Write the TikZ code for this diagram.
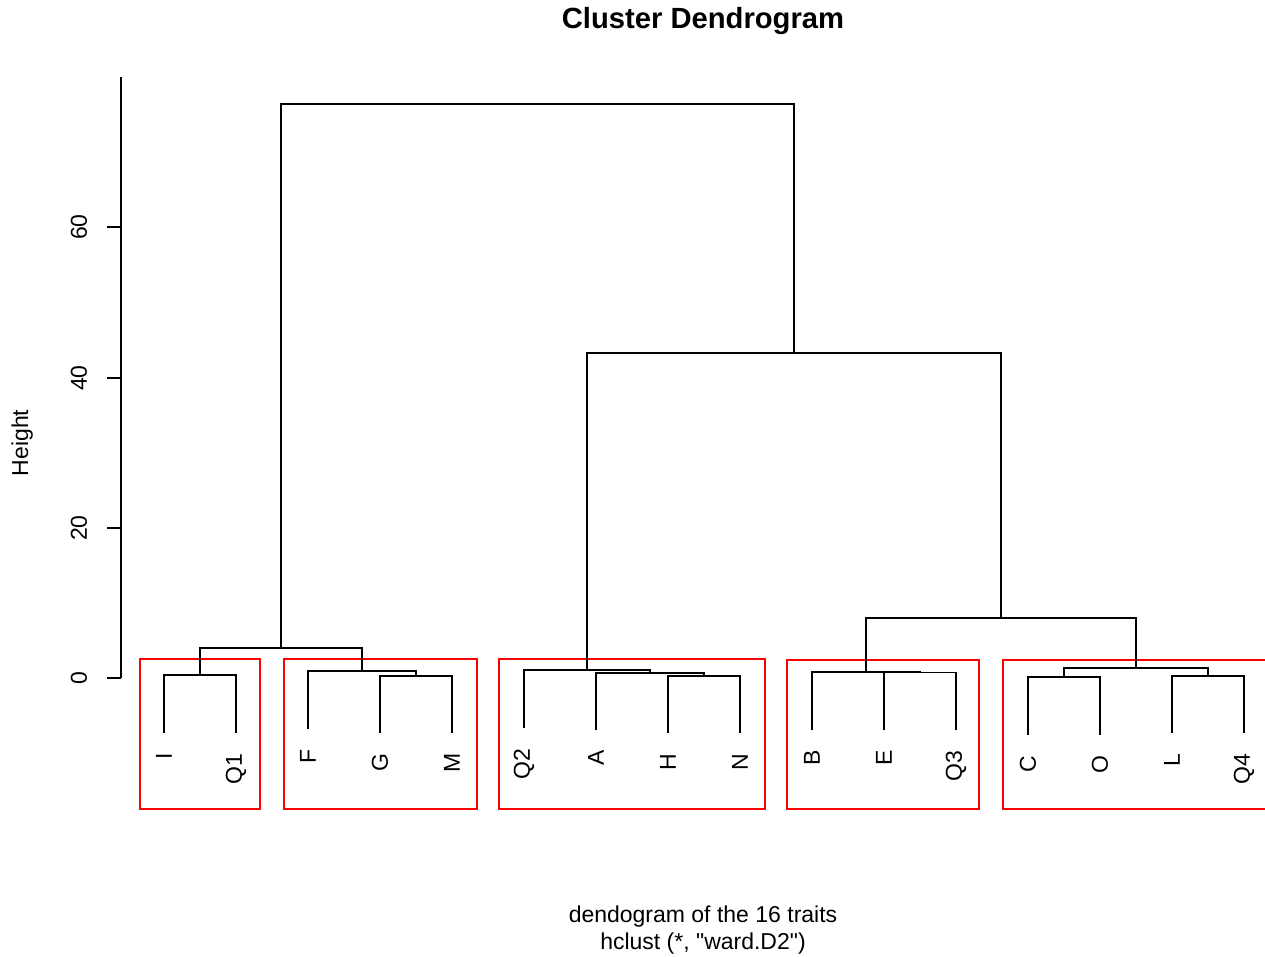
\documentclass[tikz,border=0pt]{standalone}
\usepackage{fontspec}
\setmainfont{Liberation Sans}
\newcommand\straightq{\XeTeXglyph\XeTeXcharglyph"22\relax}
\definecolor{clustcol}{HTML}{FF0000}
\definecolor{treecol}{HTML}{000000}

\begin{document}
\begin{tikzpicture}[
    x=0.5pt, y=-0.5pt,
    font=\fontsize{11.5}{13.8}\selectfont,
    branch/.style={draw=treecol, line width=0.75pt},
    clbox/.style={draw=clustcol, line width=0.85pt},
    leaflab/.style={rotate=90, anchor=east, inner sep=0pt},
    ticklab/.style={rotate=90, inner sep=0pt},
]
\useasboundingbox (0,0) rectangle (1265,957);
\clip (0,0) rectangle (1265,957);

% ── Titles ──
\node[font=\fontsize{14.6}{17.5}\selectfont\bfseries, anchor=base] (title) at (703,29) {Cluster Dendrogram};
\node[anchor=base] (sub1) at (703,922) {dendogram of the 16 traits};
\node[anchor=base] (sub2) at (703,949) {hclust (*, \straightq ward.D2\straightq)};
\node[rotate=90, anchor=base] (ylab) at (28,443) {Height};

% ── Height axis ──
\coordinate (axbot) at (121,678);
\coordinate (axtop) at (121,77);
\draw[branch] (axbot) -- (axtop);
\node[ticklab] (t0) at (79,678) {0};
\node[ticklab] (t20) at (79,528) {20};
\node[ticklab] (t40) at (79,378) {40};
\node[ticklab] (t60) at (79,227) {60};
\draw[branch] (axbot) -- ++(-14,0);
\draw[branch] (121,528) -- ++(-14,0);
\draw[branch] (121,378) -- ++(-14,0);
\draw[branch] (121,227) -- ++(-14,0);

% ── Cluster boxes ──
\draw[clbox] (140,659) rectangle (260,809);
\draw[clbox] (284,659) rectangle (477,809);
\draw[clbox] (499,659) rectangle (765,809);
\draw[clbox] (787,660) rectangle (979,809);
\draw[clbox] (1003,660) rectangle (1275,809);

% ── Leaves (left to right) ──
\coordinate (lI)  at (164,733);  \node[leaflab] (nI)  at (164,753)  {I};
\coordinate (lQ1) at (236,733);  \node[leaflab] (nQ1) at (236,753)  {Q1};
\coordinate (lF)  at (308,729);  \node[leaflab] (nF)  at (308,749)  {F};
\coordinate (lG)  at (380,733);  \node[leaflab] (nG)  at (380,753)  {G};
\coordinate (lM)  at (452,733);  \node[leaflab] (nM)  at (452,753)  {M};
\coordinate (lQ2) at (524,728);  \node[leaflab] (nQ2) at (524,748)  {Q2};
\coordinate (lA)  at (596,730);  \node[leaflab] (nA)  at (596,750)  {A};
\coordinate (lH)  at (668,733);  \node[leaflab] (nH)  at (668,753)  {H};
\coordinate (lN)  at (740,733);  \node[leaflab] (nN)  at (740,753)  {N};
\coordinate (lB)  at (812,730);  \node[leaflab] (nB)  at (812,750)  {B};
\coordinate (lE)  at (884,730);  \node[leaflab] (nE)  at (884,750)  {E};
\coordinate (lQ3) at (956,730);  \node[leaflab] (nQ3) at (956,750)  {Q3};
\coordinate (lC)  at (1028,735); \node[leaflab] (nC)  at (1028,755) {C};
\coordinate (lO)  at (1100,735); \node[leaflab] (nO)  at (1100,755) {O};
\coordinate (lL)  at (1172,733); \node[leaflab] (nL)  at (1172,753) {L};
\coordinate (lQ4) at (1244,733); \node[leaflab] (nQ4) at (1244,753) {Q4};

% ── Merge points (bottom to top) ──
\coordinate (mIQ)   at (200,675);
\coordinate (mGM)   at (416,676);
\coordinate (mFGM)  at (362,671);
\coordinate (mLft)  at (281,648);
\coordinate (mHN)   at (704,676);
\coordinate (mAHN)  at (650,673);
\coordinate (mQAHN) at (587,670);
\coordinate (mEQ)   at (920,672.5);
\coordinate (mBEQ)  at (866,672);
\coordinate (mCO)   at (1064,677);
\coordinate (mLQ)   at (1208,676);
\coordinate (mCOLQ) at (1136,668);
\coordinate (mBC)   at (1001,618);
\coordinate (mRgt)  at (794,353);
\coordinate (mTop)  at (537.5,104);

% ── Branches ──
\draw[branch] (lI) |- (mIQ) -| (lQ1);
\draw[branch] (lG) |- (mGM) -| (lM);
\draw[branch] (lF) |- (mFGM) -| (mGM);
\draw[branch] (mIQ) |- (mLft) -| (mFGM);

\draw[branch] (lH) |- (mHN) -| (lN);
\draw[branch] (lA) |- (mAHN) -| (mHN);
\draw[branch] (lQ2) |- (mQAHN) -| (mAHN);

\draw[branch] (lE) |- (mEQ) -| (lQ3);
\draw[branch] (lB) |- (mBEQ) -| (mEQ);
\draw[branch] (lC) |- (mCO) -| (lO);
\draw[branch] (lL) |- (mLQ) -| (lQ4);
\draw[branch] (mCO) |- (mCOLQ) -| (mLQ);
\draw[branch] (mBEQ) |- (mBC) -| (mCOLQ);

\draw[branch] (mQAHN) |- (mRgt) -| (mBC);
\draw[branch] (mLft) |- (mTop) -| (mRgt);

\end{tikzpicture}
\end{document}
